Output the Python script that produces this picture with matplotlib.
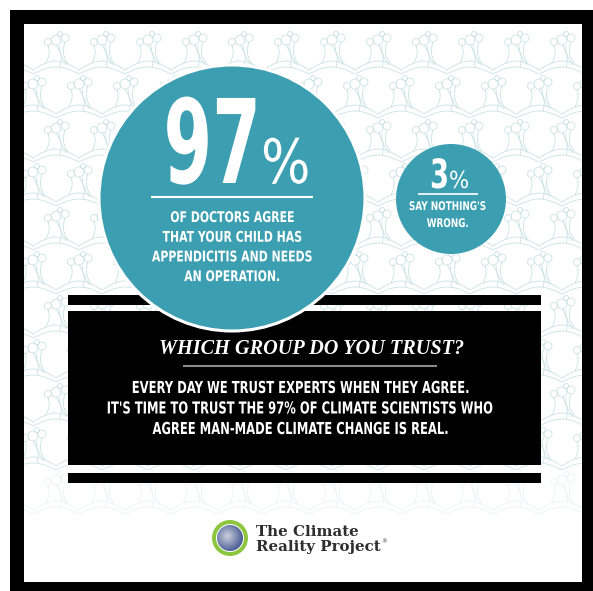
import numpy as np
import matplotlib
matplotlib.use("Agg")
import matplotlib.pyplot as plt
from matplotlib.patches import Rectangle, Circle
from matplotlib.collections import LineCollection
from matplotlib.patheffects import AbstractPathEffect
from matplotlib.transforms import Affine2D

# ---------------- data ----------------
percent_values = [97, 3]
percent_suffix = "%"
big_caption = ["OF DOCTORS AGREE", "THAT YOUR CHILD HAS",
               "APPENDICITIS AND NEEDS", "AN OPERATION."]
small_caption = ["SAY NOTHING'S", "WRONG."]
question = "WHICH GROUP DO YOU TRUST?"
message = ["EVERY DAY WE TRUST EXPERTS WHEN THEY AGREE.",
           "IT'S TIME TO TRUST THE 97% OF CLIMATE SCIENTISTS WHO",
           "AGREE MAN-MADE CLIMATE CHANGE IS REAL."]
logo_lines = ["The Climate", "Reality Project"]

# ---------------- style ----------------
TEAL = "#3c9fb1"
PATTERN = "#c6e0e3"
W, H = 593, 591


class Stretch(AbstractPathEffect):
    """Stretch glyphs vertically about the baseline (gives a condensed look)."""
    def __init__(self, sy):
        super().__init__()
        self.sy = sy

    def draw_path(self, renderer, gc, tpath, affine, rgbFace=None):
        pre = Affine2D().scale(1, self.sy)
        renderer.draw_path(gc, tpath, pre + affine, rgbFace)


fig = plt.figure(figsize=(W / 100, H / 100), dpi=100)
ax = fig.add_axes([0, 0, 1, 1])
ax.set_xlim(0, W)
ax.set_ylim(H, 0)
ax.axis("off")


def txt(x, y, s, size, cond=1.0, weight="bold", family="DejaVu Sans",
        color="white", style="normal", ha="center", z=10):
    """cond < 1 : condensed text, drawn at size*cond and stretched 1/cond vertically."""
    t = ax.text(x, y, s, fontsize=size * cond, fontweight=weight, family=family,
                color=color, style=style, ha=ha, va="baseline", zorder=z)
    if cond != 1.0:
        t.set_path_effects([Stretch(1.0 / cond)])
    return t


# frame
ax.add_patch(Rectangle((10, 10), 583, 581, facecolor="black", edgecolor="none", zorder=0))
inner = Rectangle((24, 24), 558, 558, facecolor="white", edgecolor="none", zorder=0.5)
ax.add_patch(inner)

# decorative background pattern (faint swirls)
segs, cols = [], []
base = np.array(matplotlib.colors.to_rgb(PATTERN))
th = np.linspace(0, 2 * np.pi, 40)
tt = np.linspace(0, 1, 20)
for r_i, y0 in enumerate(np.arange(40, 520, 44)):
    a = 1.0 if y0 < 430 else max(0.0, 1 - (y0 - 430) / 80)
    if a <= 0:
        continue
    off = 23 if r_i % 2 else 0
    for x0 in np.arange(10 + off, 610, 46):
        local = []
        for (cx, cy, r) in [(0, 0, 5), (9, -2, 4), (-8, 2, 3.5), (4, -6, 2.5)]:
            local.append(np.c_[x0 + cx + r * np.cos(th), y0 + cy + r * np.sin(th)])
        for (sx0, sy0, dx, wig, L) in [(0, 5, 4, 3, 22), (9, 2, 3, -3, 22),
                                       (-8, 5, -2, 2, 18), (3, 5, 8, -2, 20)]:
            local.append(np.c_[x0 + sx0 + dx * tt + wig * np.sin(np.pi * tt),
                               y0 + sy0 + L * tt])
        xs = np.linspace(-23, 23, 30)
        local.append(np.c_[x0 + xs, y0 + 30 - 9 * np.cos(np.pi * xs / 46)])
        local.append(np.c_[x0 + xs, y0 + 34 - 7 * np.cos(np.pi * xs / 46)])
        segs.extend(local)
        c = 1 - (1 - base) * a
        cols.extend([c] * len(local))
lc = LineCollection(segs, colors=cols, linewidths=0.55, zorder=1)
ax.add_collection(lc)
lc.set_clip_path(inner)

# black bars and box
ax.add_patch(Rectangle((68, 295), 473, 10, facecolor="black", zorder=2))
ax.add_patch(Rectangle((68, 311), 473, 154, facecolor="black", zorder=2))
ax.add_patch(Rectangle((68, 473), 473, 10, facecolor="black", zorder=2))

# big circle
ax.add_patch(Circle((232, 198), 133, facecolor=TEAL, edgecolor="white", linewidth=2.2, zorder=3))
txt(261, 183, f"{percent_values[0]}", 84, cond=0.6, ha="right")
txt(261, 183, percent_suffix, 44, cond=0.85, weight="normal", ha="left")
ax.plot([151, 313], [197, 197], color="white", lw=1.5, zorder=4, solid_capstyle="butt")
for i, line in enumerate(big_caption):
    txt(232, 222 + 19.7 * i, line, 10.6, cond=0.74)

# small circle
ax.add_patch(Circle((451, 199), 55, facecolor=TEAL, edgecolor="none", zorder=3))
txt(449, 188, f"{percent_values[1]}", 29, cond=0.68, ha="right")
txt(449, 188, percent_suffix, 17, cond=0.9, weight="normal", ha="left")
ax.plot([418, 478], [194, 194], color="white", lw=1.2, zorder=4, solid_capstyle="butt")
for i, line in enumerate(small_caption):
    txt(448, 210 + 17 * i, line, 8.6, cond=0.74)

# box text
txt(312, 354, question, 14.6, weight="bold", style="italic", family="Liberation Serif")
ax.plot([183, 437], [366, 366], color="#8a8a8a", lw=1.5, zorder=4, solid_capstyle="butt")
for i, line in enumerate(message):
    txt(302, 393 + 20.5 * i, line, 11.9, cond=0.70)

# logo
ax.add_patch(Circle((230, 538), 18, facecolor="#8cc63f", edgecolor="none", zorder=3))
ax.add_patch(Circle((230, 538), 14, facecolor="white", edgecolor="none", zorder=3.1))
earth_clip = Circle((230, 538), 13, facecolor="none", edgecolor="none", zorder=3.2)
ax.add_patch(earth_clip)
gy, gx = np.mgrid[-1:1:64j, -1:1:64j]
rr = np.clip(np.hypot(gx + 0.2, gy + 0.15), 0, 1.3) / 1.3
c_in = np.array([0.80, 0.82, 0.87])
c_out = np.array([0.25, 0.33, 0.56])
img = c_in[None, None, :] * (1 - rr[..., None]) + c_out[None, None, :] * rr[..., None]
im = ax.imshow(img, extent=(217, 243, 551, 525), zorder=3.3, interpolation="bilinear")
im.set_clip_path(earth_clip)
ax.set_xlim(0, W)
ax.set_ylim(H, 0)
txt(256, 536, logo_lines[0], 10.8, weight="bold", family="DejaVu Serif",
    color="#2e2e2e", ha="left")
txt(256, 551, logo_lines[1], 10.8, weight="bold", family="DejaVu Serif",
    color="#2e2e2e", ha="left")
ax.text(381, 543, "\u00ae", fontsize=4, color="#2e2e2e", ha="left", va="baseline", zorder=10)

fig.savefig("out.png", dpi=100)
